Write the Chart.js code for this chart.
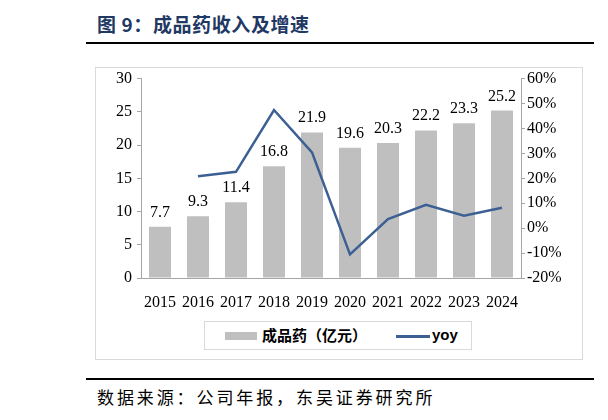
<!DOCTYPE html>
<html>
<head>
<meta charset="utf-8">
<script src="https://cdn.jsdelivr.net/npm/chart.js@4.4.0/dist/chart.umd.min.js"></script>
<style>
  html, body { margin: 0; padding: 0; background: #fff; }
  body { width: 608px; height: 420px; position: relative; overflow: hidden; }
  #title { position: absolute; left: 97px; top: 10px; font: bold 19px "Noto Sans CJK SC"; color: #1f3864; white-space: nowrap; letter-spacing: 0.6px; }
  .rule { position: absolute; left: 86px; width: 508px; height: 2px; background: #000; }
  #box { position: absolute; left: 95px; top: 67px; width: 486px; height: 291px; border: 1px solid #d9d9d9; }
  #chartWrap { position: absolute; left: 96px; top: 64px; width: 486px; height: 294px; }
  #legend { position: absolute; left: 204px; top: 321px; width: 266px; height: 27px; border: 1px solid #d9d9d9; background: #fff; }
  .sw { position: absolute; }
  .lt { position: absolute; top: 4px; font: bold 15px "Noto Sans CJK SC"; color: #000; white-space: nowrap; line-height: 18px; }
  #source { position: absolute; left: 97px; top: 384px; font: 17px "Noto Sans CJK SC"; letter-spacing: 2.9px; color: #000; white-space: nowrap; }
</style>
</head>
<body>
<div id="title">图 9：成品药收入及增速</div>
<div class="rule" style="top:42px"></div>
<div id="box"></div>
<div id="chartWrap"><canvas id="c"></canvas></div>
<div id="legend">
  <div class="sw" style="left:20px;top:10px;width:32px;height:8px;background:#bfbfbf"></div>
  <div class="lt" style="left:57px">成品药（亿元）</div>
  <div class="sw" style="left:191px;top:13px;width:34px;height:2.5px;background:#3c6093"></div>
  <div class="lt" style="left:227px;font-family:'Liberation Sans'">yoy</div>
</div>
<div class="rule" style="top:378px"></div>
<div id="source">数据来源：公司年报，东吴证券研究所</div>

<script>
// 数据
const years = ['2015', '2016', '2017', '2018', '2019', '2020', '2021', '2022', '2023', '2024'];
const revenue = [7.7, 9.3, 11.4, 16.8, 21.9, 19.6, 20.3, 22.2, 23.3, 25.2];
const yoy = [null, 20.8, 22.6, 47.4, 30.4, -10.5, 3.6, 9.4, 5.0, 8.2];

const tickFont = { family: 'Liberation Serif', size: 16 };
const axisColor = '#a6a6a6';

// étiquettes au-dessus des barres
const barLabels = {
    id: 'barLabels',
    afterDatasetsDraw(chart) {
        const ctx = chart.ctx;
        const meta = chart.getDatasetMeta(1);
        ctx.save();
        ctx.font = '16px "Liberation Serif"';
        ctx.fillStyle = '#000';
        ctx.textAlign = 'center';
        ctx.textBaseline = 'alphabetic';
        meta.data.forEach((bar, i) => {
            ctx.fillText(revenue[i].toFixed(1), bar.x, bar.y - 10);
        });
        ctx.restore();
    }
};

new Chart(document.getElementById('c'), {
    data: {
        labels: years,
        datasets: [
            {
                type: 'line',
                label: 'yoy',
                data: yoy,
                yAxisID: 'y1',
                borderColor: '#3c6093',
                borderWidth: 2.5,
                pointRadius: 0,
                tension: 0,
                spanGaps: false,
                order: 0
            },
            {
                type: 'bar',
                label: '成品药（亿元）',
                data: revenue,
                yAxisID: 'y',
                backgroundColor: '#bfbfbf',
                categoryPercentage: 1,
                barPercentage: 0.58,
                order: 1
            }
        ]
    },
    options: {
        responsive: true,
        maintainAspectRatio: false,
        animation: false,
        layout: { padding: { top: 8, left: 0, right: 0, bottom: 0 } },
        plugins: { legend: { display: false }, tooltip: { enabled: false } },
        scales: {
            x: {
                grid: { display: false, drawTicks: false },
                border: { display: true, color: axisColor },
                ticks: { font: tickFont, color: '#000', padding: 15, maxRotation: 0, autoSkip: false },
                afterFit: s => { s.height = 80; }
            },
            y: {
                position: 'left',
                min: 0, max: 30,
                grid: { drawOnChartArea: false, drawTicks: true, tickLength: 4, color: axisColor },
                border: { display: true, color: axisColor },
                ticks: { stepSize: 5, font: tickFont, color: '#000', padding: 5 },
                afterFit: s => { s.width = 45; }
            },
            y1: {
                position: 'right',
                min: -20, max: 60,
                grid: { drawOnChartArea: false, drawTicks: true, tickLength: 4, color: axisColor },
                border: { display: true, color: axisColor },
                ticks: { stepSize: 10, font: tickFont, color: '#000', padding: 2, callback: v => v + '%' },
                afterFit: s => { s.width = 61; }
            }
        }
    },
    plugins: [barLabels]
});
</script>
</body>
</html>
